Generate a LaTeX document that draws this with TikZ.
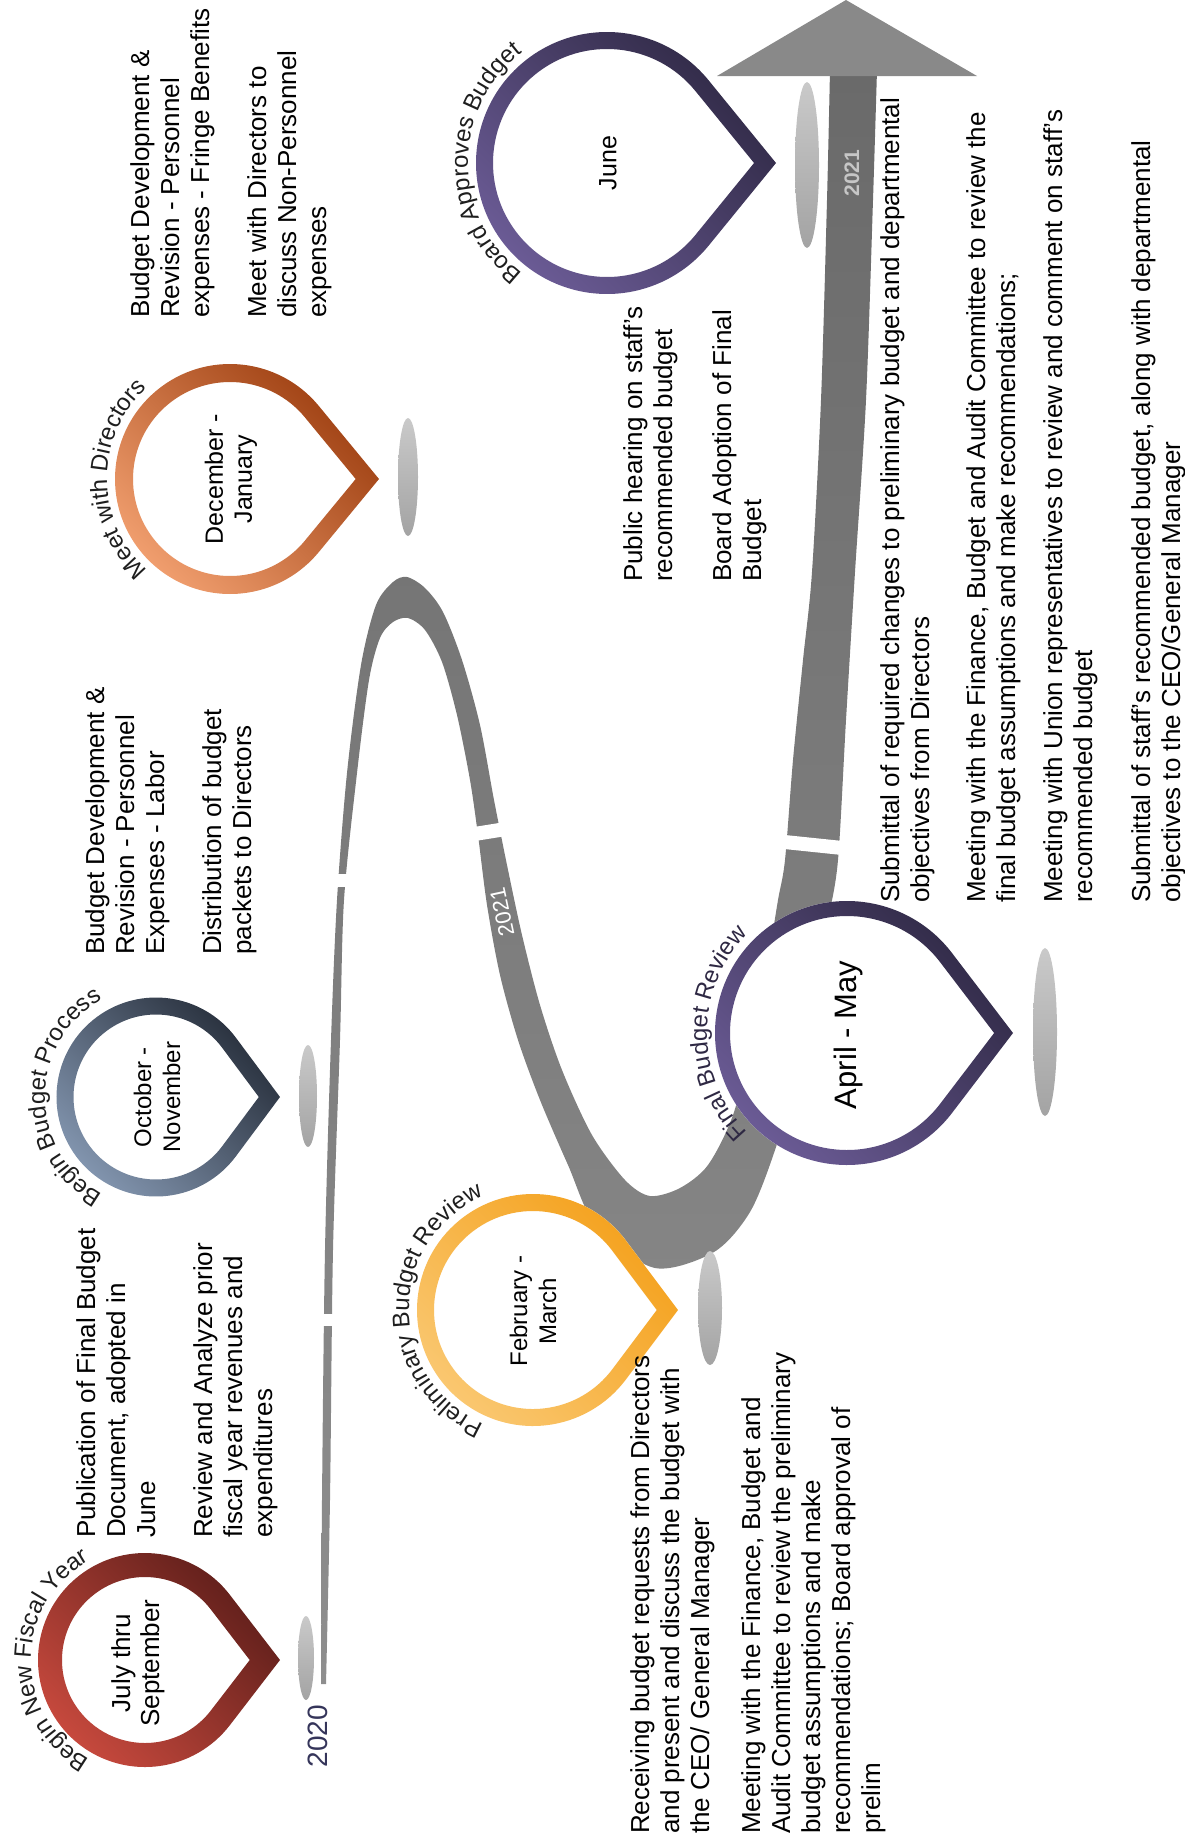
\documentclass[tikz,border=0pt]{standalone}
\usepackage{fontspec}
\setmainfont{Liberation Sans}
\usetikzlibrary{calc,decorations.text}
\definecolor{redL}{HTML}{C94A3E}
\definecolor{redD}{HTML}{5B1D19}
\definecolor{steelL}{HTML}{8497B1}
\definecolor{steelD}{HTML}{232A36}
\definecolor{peachL}{HTML}{F2A070}
\definecolor{peachD}{HTML}{9B3C0E}
\definecolor{amberL}{HTML}{FAC872}
\definecolor{amberD}{HTML}{F4A01A}
\definecolor{plumL}{HTML}{6C5C97}
\definecolor{plumD}{HTML}{2E2843}
\definecolor{bandT}{HTML}{6A6A6A}
\definecolor{bandB}{HTML}{8E8E8E}
\definecolor{headC}{HTML}{898989}
\definecolor{navy}{HTML}{35355A}
\definecolor{lbl}{HTML}{1E1E1E}
\newcommand{\lblfont}{\fontsize{24}{24}\selectfont}
\newcommand{\monthpin}[8]{%
  \pgfmathsetmacro\pinang{acos(#4/#5)}%
  \pgfmathsetmacro\pinend{360-\pinang}%
  \pgfmathsetmacro\pinrad{#4-#6}%
  \pgfmathsetmacro\pintip{#5-#6*#5/#4}%
  \coordinate (#1) at (#2,-#3);
  \fill[white] ($(#1)+(#5,0)$) -- ($(#1)+(\pinang:#4)$)
    arc[start angle=\pinang, end angle=\pinend, radius=#4] -- cycle;
  \shade[even odd rule, top color=#8, bottom color=#7, shading angle=-45]
    ($(#1)+(#5,0)$) -- ($(#1)+(\pinang:#4)$)
      arc[start angle=\pinang, end angle=\pinend, radius=#4] -- cycle
    ($(#1)+(\pintip,0)$) -- ($(#1)+(\pinang:\pinrad)$)
      arc[start angle=\pinang, end angle=\pinend, radius=\pinrad] -- cycle;
}
\tikzset{
  notetxt/.style={rotate=90, anchor=north west, inner sep=0pt, align=left,
                  font=\fontsize{26}{30}\selectfont},
  monthtxt/.style={rotate=90, inner sep=0pt, align=center,
                   font=\fontsize{#1}{29}\selectfont},
  gapbar/.style={draw=white, line width=13pt},
  tipshade/.style={top color=gray!42, bottom color=gray!72},
}
\begin{document}
\begin{tikzpicture}[x=1pt, y=1pt]
  \useasboundingbox (0,0) rectangle (1184,-1844);
  \shade[top color=bandT, bottom color=bandB]
    plot[smooth, tension=0.5] coordinates {(321,-1684) (322,-1500) (325,-1250) (331,-1040)
      (337,-900) (347,-773) (361,-665) (376,-605) (393,-582) (407,-577) (425,-588)
      (443,-612) (462,-660) (480,-725) (494,-800) (507,-865) (522,-935) (540,-1005)
      (562,-1070) (592,-1135) (625,-1180) (650,-1196) (680,-1188) (708,-1165)
      (733,-1115) (752,-1040) (768,-960) (778,-900) (785,-860) (793,-760) (803,-660)
      (812,-572) (821,-400) (827,-200) (830,-70)}
    -- plot[smooth, tension=0.5] coordinates {(877,-70) (873,-200) (866,-400) (855,-572)
      (846,-720) (838,-860) (828,-920) (814,-990) (798,-1070) (775,-1150) (750,-1212)
      (714,-1252) (655,-1268) (597,-1228) (568,-1165) (540,-1100) (518,-1040)
      (500,-975) (487,-905) (478,-835) (470,-780) (457,-715) (442,-662) (425,-630)
      (408,-618) (393,-622) (380,-638) (369,-680) (357,-773) (344,-900) (340,-1040)
      (333,-1250) (330,-1500) (326,-1684)} -- cycle;
  \fill[headC] (717,-76) -- (846,0) -- (977,-76) -- cycle;
  \draw[gapbar, line width=12pt] (310,-1320) -- (342,-1320);
  \draw[gapbar] (326,-880) -- (358,-880);
  \draw[gapbar, line width=14pt] (462,-836) -- (512,-828);
  \draw[gapbar, line width=14pt] (775,-841) -- (852,-849);
  \node[rotate=102, text=white, font=\fontsize{22}{22}\selectfont] (y21a) at (502,-912) {2021};
  \node[rotate=90, text=gray!45, font=\bfseries\fontsize{21}{21}\selectfont] (y21b) at (852,-173) {2021};
  \node[rotate=90, text=navy, font=\fontsize{28}{28}\selectfont] (y20) at (318,-1736) {2020};

  \shade[tipshade] (306,-1658) ellipse [x radius=8, y radius=42];
  \shade[tipshade] (308,-1096) ellipse [x radius=9, y radius=51];
  \shade[tipshade] (408,-477) ellipse [x radius=10, y radius=59];
  \shade[tipshade] (710,-1308) ellipse [x radius=12, y radius=57];
  \shade[tipshade] (1045,-1032) ellipse [x radius=12, y radius=84];
  \shade[tipshade] (807,-165) ellipse [x radius=12, y radius=83];

  \monthpin{fy}{145}{1660}{107}{135}{24}{redL}{redD}
  \monthpin{bp}{156}{1097}{99.5}{124}{17}{steelL}{steelD}
  \monthpin{md}{230}{479}{115}{149}{18}{peachL}{peachD}
  \monthpin{pr}{533}{1310}{116}{145}{17}{amberL}{amberD}
  \monthpin{fr}{847}{1033}{132}{166}{15}{plumL}{plumD}
  \monthpin{ba}{607}{163}{131}{169}{17}{plumL}{plumD}

  \node[monthtxt=26] (m1) at (138,-1663) {July thru\\September};
  \node[monthtxt=24] (m2) at (157,-1097) {October -\\November};
  \node[monthtxt=25] (m3) at (231,-479) {December -\\January};
  \node[monthtxt=24] (m4) at (533,-1311) {February -\\March};
  \node[monthtxt=31] (m5) at (848,-1035) {April - May};
  \node[monthtxt=25] (m6) at (608,-163) {June};

  \path[decorate, decoration={text along path, text align=center, text color=lbl,
      text={|\lblfont|Begin New Fiscal Year}}]
    ($(fy)+(255:114)$) arc[start angle=255, end angle=105, radius=114];
  \path[decorate, decoration={text along path, text align=center, text color=lbl,
      text={|\lblfont|Begin Budget Process}}]
    ($(bp)+(255:111)$) arc[start angle=255, end angle=105, radius=111];
  \path[decorate, decoration={text along path, text align=center, text color=lbl,
      text={|\lblfont|Meet with Directors}}]
    ($(md)+(255:123)$) arc[start angle=255, end angle=105, radius=123];
  \path[decorate, decoration={text along path, text align=center, text color=lbl,
      text={|\lblfont|Preliminary Budget Review}}]
    ($(pr)+(255:124)$) arc[start angle=255, end angle=105, radius=124];
  \path[decorate, decoration={text along path, text align=center, text color=plumD,
      text={|\lblfont|Final Budget Review}}]
    ($(fr)+(255:140)$) arc[start angle=255, end angle=105, radius=140];
  \path[decorate, decoration={text along path, text align=center, text color=lbl,
      text={|\lblfont|Board Approves Budget}}]
    ($(ba)+(255:139)$) arc[start angle=255, end angle=105, radius=139];

  \node[notetxt] (t1) at (76,-1538) {Publication of Final Budget\\Document,  adopted in\\June};
  \node[notetxt] (t2) at (193,-1538) {Review and Analyze prior\\fiscal year revenues and\\expenditures};
  \node[notetxt] (t3) at (85,-955) {Budget Development \&\\Revision - Personnel\\Expenses - Labor};
  \node[notetxt] (t4) at (202,-955) {Distribution of budget\\packets to Directors};
  \node[notetxt] (t5) at (130,-318) {Budget Development \&\\Revision - Personnel\\expenses - Fringe Benefits};
  \node[notetxt] (t6) at (247,-318) {Meet with Directors to\\discuss Non-Personnel\\expenses};
  \node[notetxt] (t7) at (623,-582) {Public hearing on staff's\\recommended budget};
  \node[notetxt] (t8) at (712,-582) {Board Adoption of Final\\Budget};
  \node[notetxt] (t9) at (630,-1834) {Receiving budget requests  from Directors\\and present and discuss the budget with\\the CEO/ General Manager};
  \node[notetxt] (t10) at (741,-1834) {Meeting with the Finance,  Budget and\\Audit Committee to review the preliminary\\budget assumptions and make\\recommendations; Board approval of\\prelim};
  \node[notetxt] (t11) at (880,-903) {Submittal of required changes to preliminary budget and departmental\\objectives from Directors};
  \node[notetxt] (t12) at (966,-903) {Meeting with the Finance,  Budget and Audit Committee to review the\\final budget assumptions and make recommendations;};
  \node[notetxt] (t13) at (1043,-903) {Meeting with Union representatives  to review and comment on staff's\\recommended budget};
  \node[notetxt] (t14) at (1131,-903) {Submittal of staff's recommended budget, along with departmental\\objectives to the CEO/General Manager};
\end{tikzpicture}
\end{document}
